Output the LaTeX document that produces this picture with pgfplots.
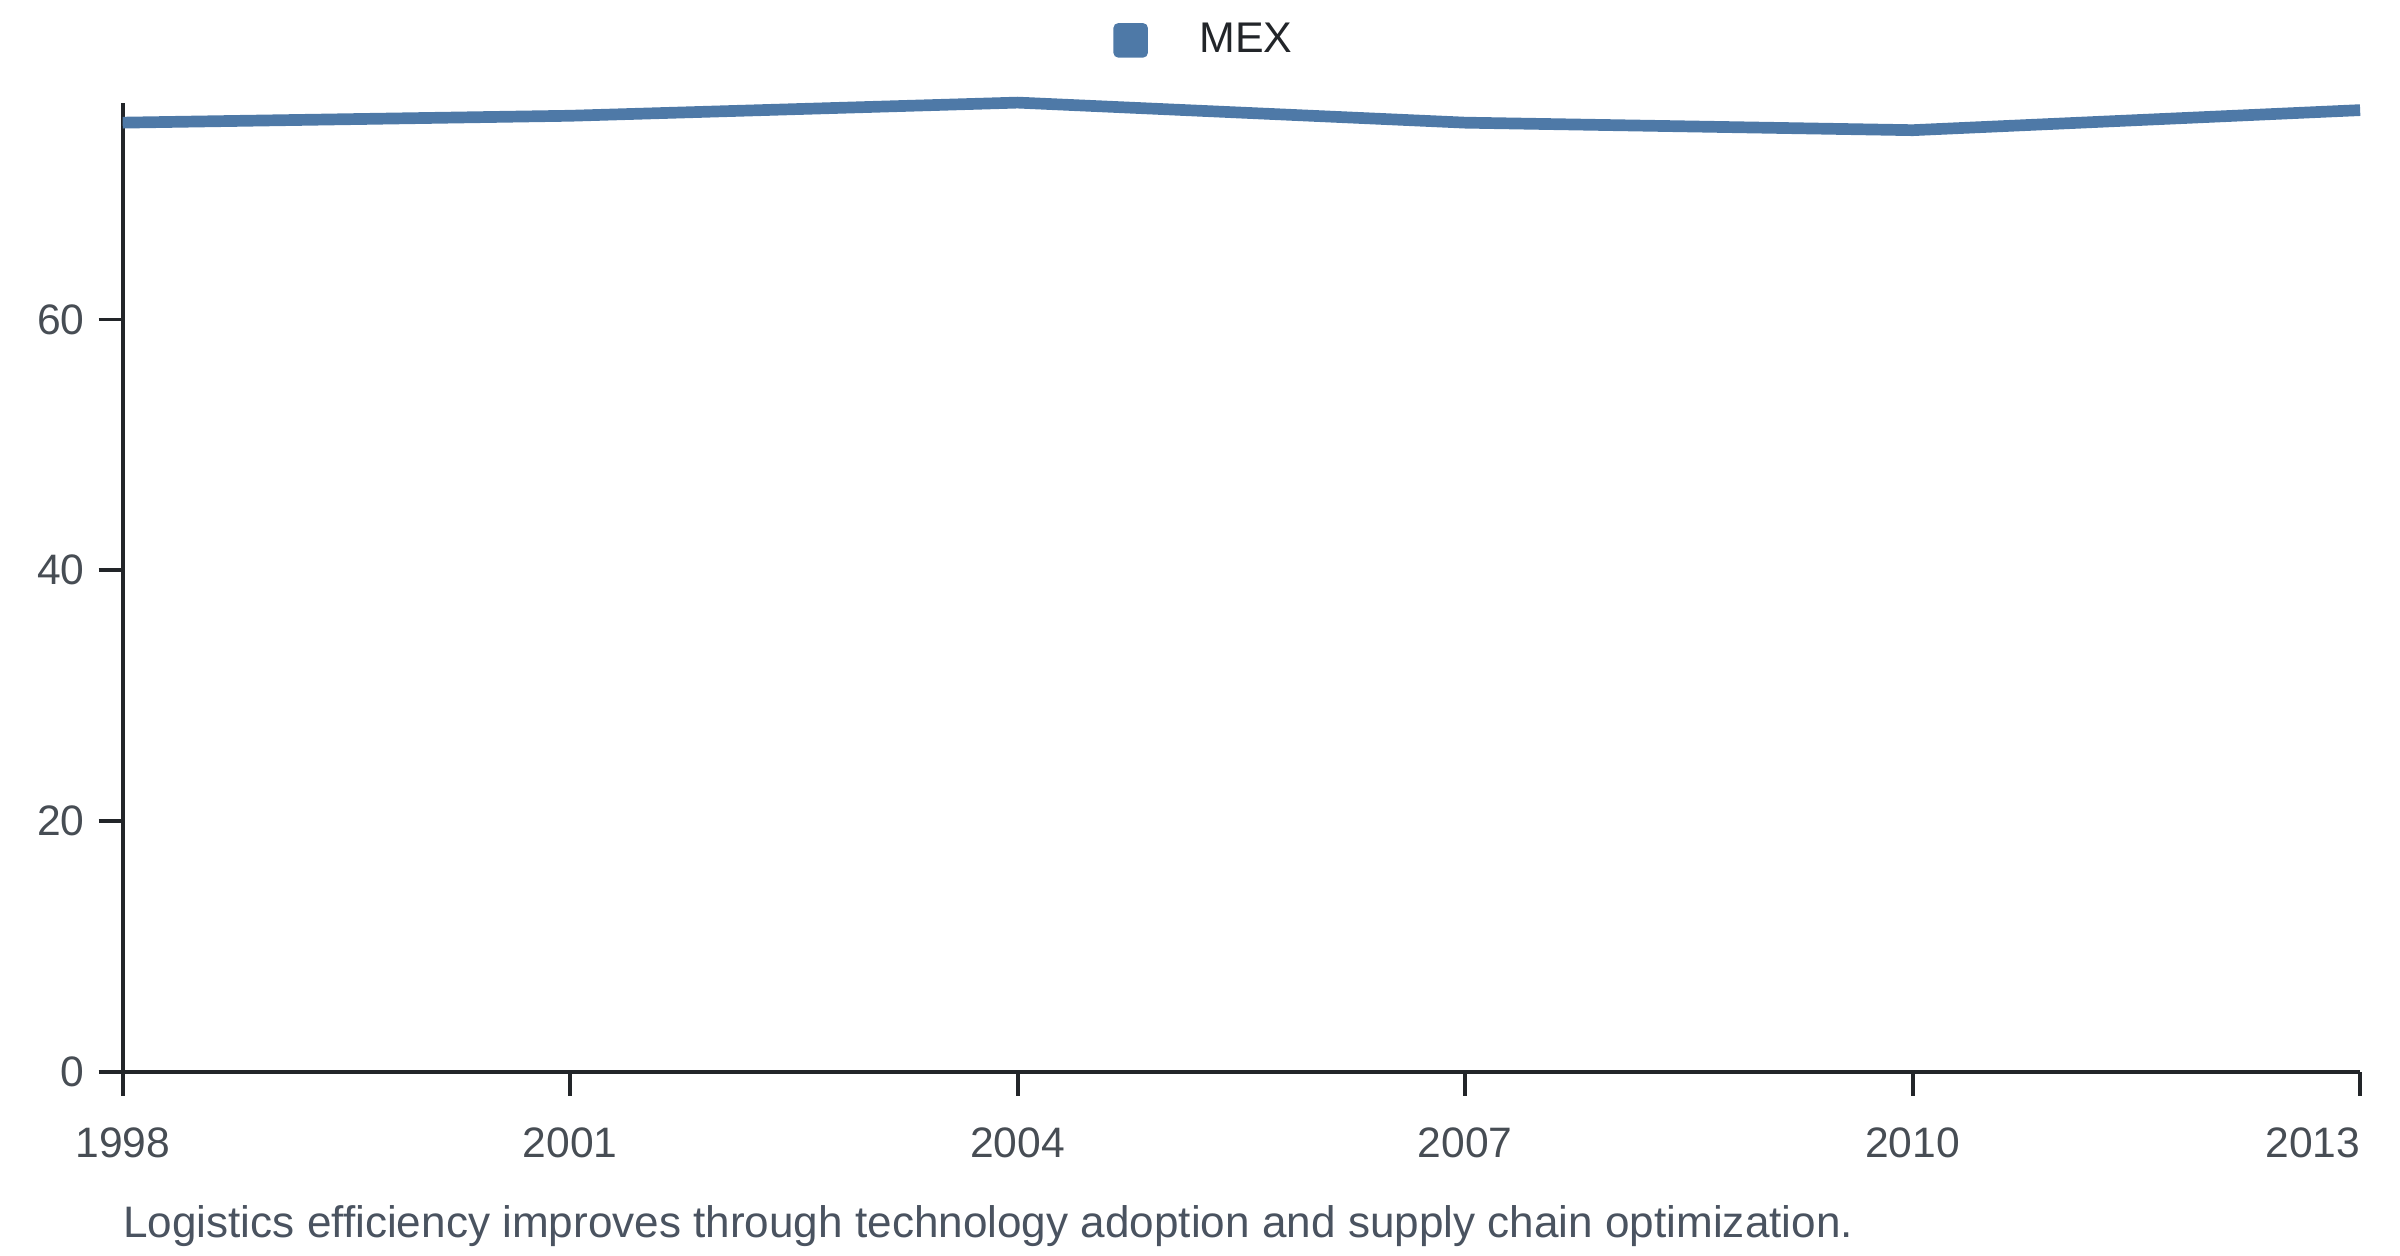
\documentclass[border=0pt]{standalone}
\usepackage{fontspec}
\setmainfont{Liberation Sans}
\usepackage{pgfplots}
\pgfplotsset{compat=1.18}
\definecolor{mexblue}{HTML}{4E79A7}
\definecolor{axisdark}{HTML}{222529}
\definecolor{ticktext}{HTML}{474D54}
\definecolor{captext}{HTML}{4A5360}
\begin{document}
\begin{tikzpicture}
\begin{axis}[
  at={(0,0)}, anchor=south west,
  scale only axis,
  width=745.8pt, height=323.1pt,
  xmin=1998, xmax=2013,
  ymin=0, ymax=77.3,
  clip=false,
  axis lines=left,
  axis line style={-, line width=1.3pt, color=axisdark},
  tick pos=left,
  tick align=outside,
  major tick length=8pt,
  tick style={line width=1.3pt, color=axisdark},
  xtick={1998,2001,2004,2007,2010,2013},
  xticklabels={1998,2001,2004,2007,2010,\llap{2013}},
  ytick={0,20,40,60},
  /pgf/number format/assume math mode=true,
  /pgf/number format/1000 sep={},
  ticklabel style={font=\fontsize{14.2}{16}\selectfont, text=ticktext},
  xticklabel style={yshift=-7pt},
  yticklabel style={xshift=-1.2pt},
  legend style={at={(0.4428,1.0642)}, anchor=west, draw=none, fill=none,
    inner sep=0pt, outer sep=0pt, nodes={inner sep=0pt},
    font=\fontsize{14.3}{17}\selectfont, text=axisdark},
  legend image code/.code={\path[fill=mexblue, draw=none, rounded corners=1.6pt] (0pt,-5.75pt) rectangle (11.5pt,5.75pt);},
  legend cell align=left,
]
\addplot[color=mexblue, line width=3.9pt, line join=round] coordinates {
  (1998,75.7) (2001,76.25) (2004,77.3) (2007,75.7) (2010,75.1) (2013,76.7)
};
\addlegendentry{\hspace{17.2pt}MEX}
\end{axis}
\node[anchor=base west, inner sep=0pt, font=\fontsize{14.7}{17}\selectfont, text=captext] at (0pt,-55.3pt) {Logistics efficiency improves through technology adoption and supply chain optimization.};
\pgfresetboundingbox
\path (-40.9pt,-61.3pt) rectangle (759.1pt,357.3pt);
\end{tikzpicture}
\end{document}
